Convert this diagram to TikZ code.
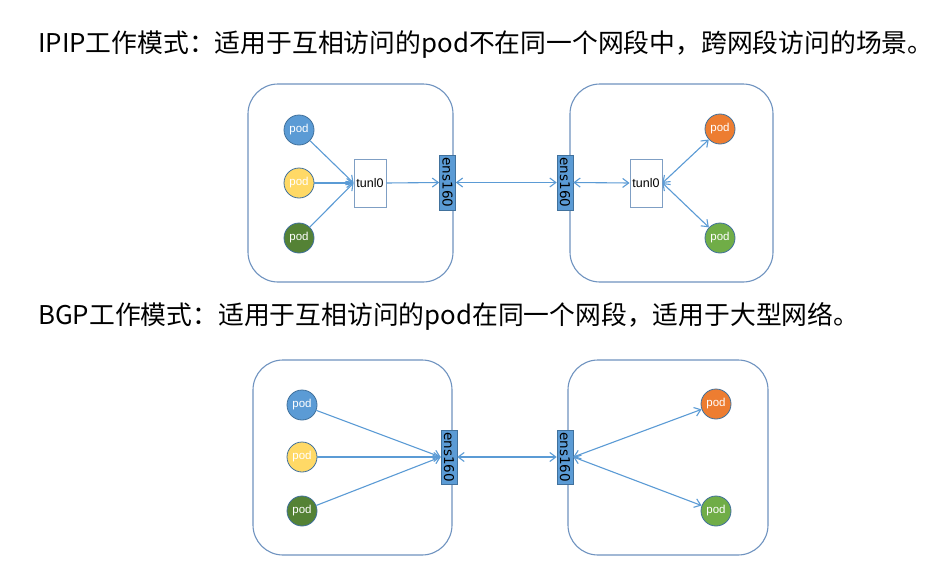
\documentclass[tikz,border=0pt]{standalone}
\usepackage{fontspec}
\setmainfont{Liberation Sans}
\newfontfamily\cjk{Noto Sans CJK SC}
\newfontfamily\dvs{DejaVu Sans}
\usetikzlibrary{arrows.meta}
\definecolor{podblue}{HTML}{5B9BD5}
\definecolor{podyellow}{HTML}{FFD966}
\definecolor{poddkgreen}{HTML}{548235}
\definecolor{podorange}{HTML}{ED7D31}
\definecolor{podgreen}{HTML}{70AD47}
\definecolor{podborder}{HTML}{41719C}
\definecolor{boxline}{HTML}{6F93C0}
\definecolor{arrline}{HTML}{5B9BD5}
\definecolor{tunline}{HTML}{7F9FC4}
\tikzset{
  pod/.style={circle, draw=podborder, line width=0.8pt, minimum size=30pt, inner sep=0pt, text=white, font=\fontsize{11.5}{13}\selectfont},
  hostbox/.style={draw=boxline, line width=1.1pt, rounded corners=30pt},
  tunbox/.style={draw=tunline, line width=0.9pt, fill=white, minimum width=32pt, minimum height=48pt, inner sep=0pt, font=\fontsize{12.5}{14}\selectfont},
  ensbox/.style={draw=podborder, line width=0.6pt, fill=podblue, minimum width=16pt, minimum height=55pt, inner sep=0pt},
  enslabel/.style={rotate=-90, font=\dvs\fontsize{13.5}{15}\selectfont, inner sep=0pt},
  arr/.style={draw=arrline, line width=1.1pt, -{Straight Barb[length=6pt,width=9pt]}},
  darr/.style={draw=arrline, line width=1.1pt, {Straight Barb[length=6pt,width=9pt]}-{Straight Barb[length=6pt,width=9pt]}},
  title/.style={anchor=west, inner sep=0pt, font=\cjk\fontsize{25.8}{30}\selectfont}
}
\begin{document}
\begin{tikzpicture}[x=1pt,y=-1pt]
\useasboundingbox (0,0) rectangle (950,570);
\fill[white] (0,0) rectangle (950,570);

% ---------- IPIP ----------
\node[title] (t1) at (38,45) {IPIP工作模式：适用于互相访问的pod不在同一个网段中，跨网段访问的场景。};

\draw[hostbox] (248,84) rectangle (453,282);
\draw[hostbox] (570,84) rectangle (773,282);

\node[pod, fill=podblue] (a1) at (299,130) {pod};
\node[pod, fill=podyellow] (a2) at (299,183) {pod};
\node[pod, fill=poddkgreen] (a3) at (299,238) {pod};
\node[tunbox] (tl) at (370,183) {tunl0};
\node[ensbox] (el) at (447.5,182.5) {};
\node[enslabel] (elt) at (el.center) {ens160};
\node[ensbox] (er) at (565,182.5) {};
\node[enslabel] (ert) at (er.center) {ens160};
\node[tunbox] (tr) at (646,183) {tunl0};
\node[pod, fill=podorange] (b1) at (720,129) {pod};
\node[pod, fill=podgreen] (b2) at (720,238) {pod};

\draw[arr] (a1) -- (tl.west);
\draw[arr] (a2) -- (tl.west);
\draw[arr] (a3) -- (tl.west);
\draw[arr] (tl.east) -- (el.west);
\draw[darr] (el.east) -- (er.west);
\draw[darr] (er.east) -- (tr.west);
\draw[darr] (tr.east) -- (b1);
\draw[darr] (tr.east) -- (b2);

% ---------- BGP ----------
\node[title] (t2) at (38,316) {BGP工作模式：适用于互相访问的pod在同一个网段，适用于大型网络。};

\draw[hostbox] (253,360) rectangle (452,555);
\draw[hostbox] (568,360) rectangle (768,555);

\node[pod, fill=podblue] (c1) at (302,405) {pod};
\node[pod, fill=podyellow] (c2) at (302,457) {pod};
\node[pod, fill=poddkgreen] (c3) at (302,511) {pod};
\node[ensbox, minimum height=54pt] (fl) at (449,457) {};
\node[enslabel] (flt) at (fl.center) {ens160};
\node[ensbox, minimum height=54pt] (fr) at (565,457) {};
\node[enslabel] (frt) at (fr.center) {ens160};
\node[pod, fill=podorange] (d1) at (716,404) {pod};
\node[pod, fill=podgreen] (d2) at (716,511) {pod};

\draw[arr] (c1) -- (fl.west);
\draw[arr] (c2) -- (fl.west);
\draw[arr] (c3) -- (fl.west);
\draw[darr] (fl.east) -- (fr.west);
\draw[darr] (fr.east) -- (d1);
\draw[darr] (fr.east) -- (d2);
\end{tikzpicture}
\end{document}
